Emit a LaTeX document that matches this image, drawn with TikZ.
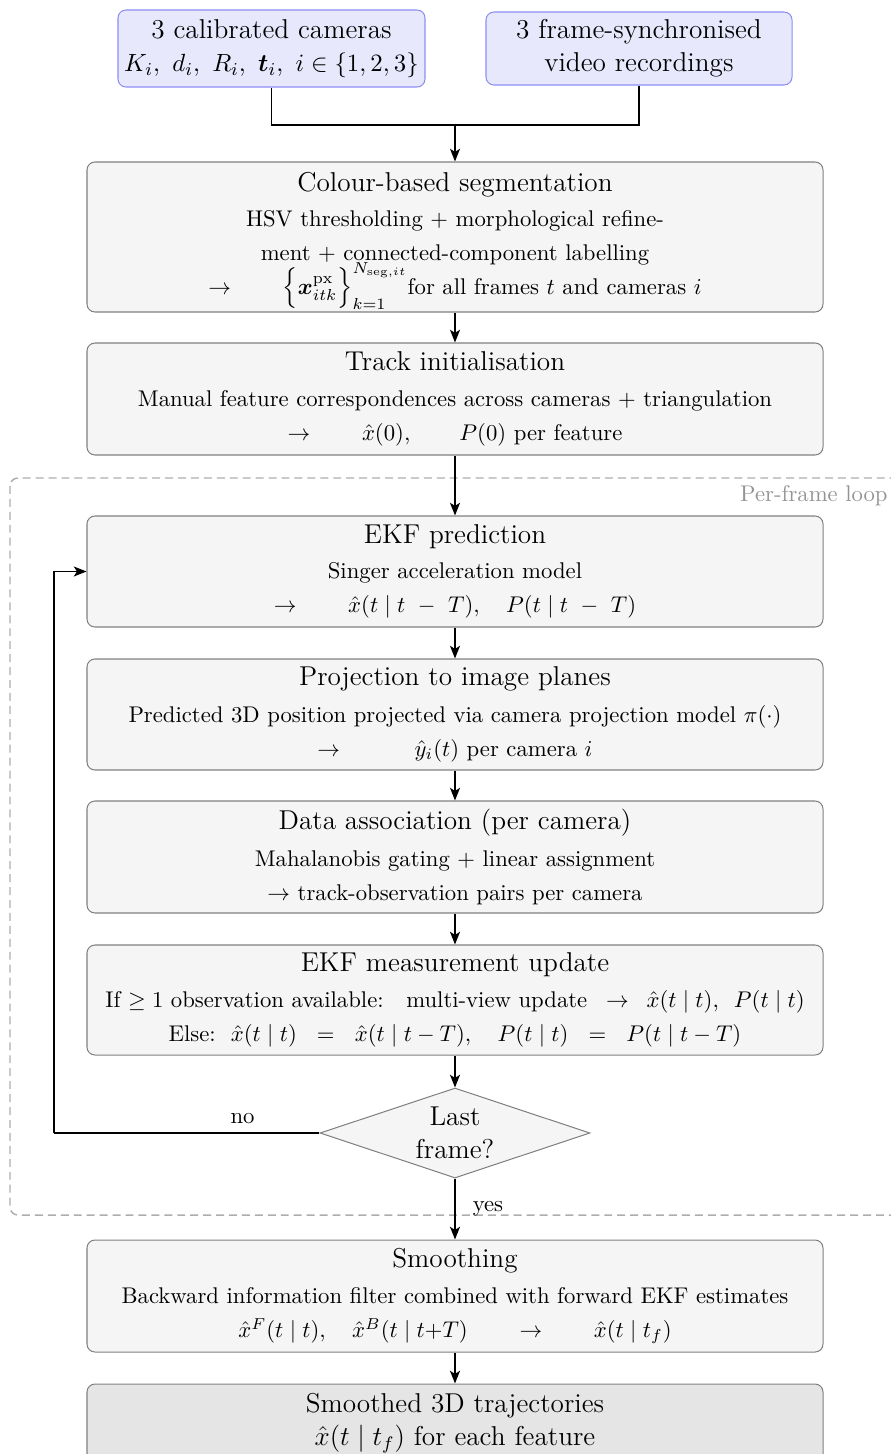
\documentclass[tikz,border=0pt]{standalone}
\usepackage{amsmath,bm}
\usepackage{fontspec}
\usetikzlibrary{arrows.meta,shapes.geometric}
\newcommand\tfont{\fontsize{12}{14.5}\selectfont}
\newcommand\bfont{\fontsize{10}{15}\selectfont}
\newcommand\mfont{\fontsize{10.95}{14.5}\selectfont}
\definecolor{procfill}{gray}{0.96}
\definecolor{procdraw}{gray}{0.5}
\definecolor{infill}{RGB}{232,232,253}
\definecolor{indraw}{RGB}{140,140,245}
\definecolor{outfill}{gray}{0.9}
\definecolor{loopcol}{gray}{0.68}
\definecolor{looptext}{gray}{0.58}
\def\P{0.4405}
\tikzset{
  proc/.style={draw=procdraw, line width=0.45pt, fill=procfill, rounded corners=3.5pt,
    minimum width=\P*736pt, align=center, font=\bfont, inner sep=0pt},
  inbox/.style={draw=indraw, line width=0.45pt, fill=infill, rounded corners=3.5pt,
    align=center, font=\tfont, inner sep=0pt},
  outbox/.style={proc, fill=outfill, font=\tfont},
  dec/.style={draw=procdraw, line width=0.45pt, fill=procfill, shape=diamond,
    minimum width=\P*270pt, minimum height=\P*90pt, inner sep=0pt},
  arr/.style={-{Stealth[length=5.6pt,width=4.4pt,inset=1.4pt]}, line width=0.65pt},
  plain/.style={line width=0.65pt},
  loopbox/.style={draw=loopcol, line width=0.65pt, dash pattern=on 3.5pt off 2.2pt, rounded corners=3.5pt},
  lbl/.style={font=\bfont}
}
\begin{document}
\begin{tikzpicture}[x=\P pt,y=-\P pt]
\useasboundingbox (0,0) rectangle (890,1454);

% per-frame loop frame
\draw[loopbox] (10,478) rectangle (910,1215);
\node[anchor=east, font=\bfont, text=looptext, inner sep=0pt] (looplbl) at (888,496) {Per-frame loop};

% inputs
\node[inbox, minimum width=\P*307pt, minimum height=\P*77pt] (A) at (271.5,48.5)
  {3 calibrated cameras\\ {\mfont$K_i,\ d_i,\ R_i,\ \bm{t}_i,\ i\in\{1,2,3\}$}};
\node[inbox, minimum width=\P*306pt, minimum height=\P*73pt] (B) at (639,48.5)
  {3 frame-synchronised\\ video recordings};

% process boxes
\node[proc, minimum height=\P*150pt] (C) at (455,237)
  {{\tfont\rule{0pt}{12pt}Colour-based segmentation}\\[0.6pt]
   HSV thresholding $+$ morphological refine-\\
   ment $+$ connected-component labelling\\[-2.2pt]
   $\rightarrow\qquad\Big\{\bm{x}^{\mathrm{px}}_{itk}\Big\}_{k=1}^{N_{\mathrm{seg},it}}$for all frames $t$ and cameras $i$};
\node[proc, minimum height=\P*112pt] (D) at (455,399)
  {{\tfont Track initialisation}\\[1pt]
   Manual feature correspondences across cameras $+$ triangulation\\
   $\rightarrow\qquad\hat{x}(0),\qquad P(0)$ per feature};
\node[proc, minimum height=\P*111pt] (E) at (455,571.5)
  {{\tfont EKF prediction}\\[0.6pt]
   Singer acceleration model\\
   $\rightarrow\qquad\hat{x}(t\mid t\ -\ T),\quad P(t\mid t\ -\ T)$};
\node[proc, minimum height=\P*111pt] (F) at (455,714.5)
  {{\tfont Projection to image planes}\\[1pt]
   Predicted 3D position projected via camera projection model $\pi(\cdot)$\\
   $\rightarrow\qquad\quad\hat{y}_i(t)$ per camera $i$};
\node[proc, minimum height=\P*112pt] (G) at (455,857)
  {{\tfont Data association (per camera)}\\[1pt]
   Mahalanobis gating $+$ linear assignment\\
   $\rightarrow$ track-observation pairs per camera};
\node[proc, minimum height=\P*110pt] (H) at (455,1000)
  {{\tfont EKF measurement update}\\[1pt]
   If $\geq 1$ observation available:\ \ \ multi-view update $\ \,\rightarrow\ \,\hat{x}(t\mid t),\ \,P(t\mid t)$\\
   Else:\ \ $\hat{x}(t\mid t)\ \;=\;\ \hat{x}(t\mid t-T),\quad P(t\mid t)\ \;=\;\ P(t\mid t-T)$};
\node[dec, label={[font=\tfont, align=center]center:Last\\frame?}] (dia) at (455,1133) {};
\node[proc, minimum height=\P*112pt] (I) at (455,1296)
  {{\tfont Smoothing}\\[1pt]
   Backward information filter combined with forward EKF estimates\\
   $\hat{x}^F(t\mid t),\quad\hat{x}^B(t\mid t{+}T)\qquad\rightarrow\qquad\hat{x}(t\mid t_f)$};
\node[outbox, minimum height=\P*78pt, align=center] (J) at (455,1423)
  {Smoothed 3D trajectories\\ $\hat{x}(t\mid t_f)$ for each feature};

% connectors
\coordinate (join) at (455,125);
\coordinate (back) at (54,1133);
\draw[plain] (A.south) |- (join);
\draw[plain] (B.south) |- (join);
\draw[arr] (join) -- (C.north);
\draw[arr] (C.south) -- (D.north);
\draw[arr] (D.south) -- (E.north);
\draw[arr] (E.south) -- (F.north);
\draw[arr] (F.south) -- (G.north);
\draw[arr] (G.south) -- (H.north);
\draw[arr] (H.south) -- (dia.north);
\draw[plain] (dia.west) -- node[lbl, pos=0.29, above, inner sep=3.6pt] {no} (back);
\draw[arr] (back) |- (E.west);
\draw[arr] (dia.south) -- node[lbl, pos=0.5, anchor=west, inner xsep=7.5pt] {yes} (I.north);
\draw[arr] (I.south) -- (J.north);
\end{tikzpicture}
\end{document}
